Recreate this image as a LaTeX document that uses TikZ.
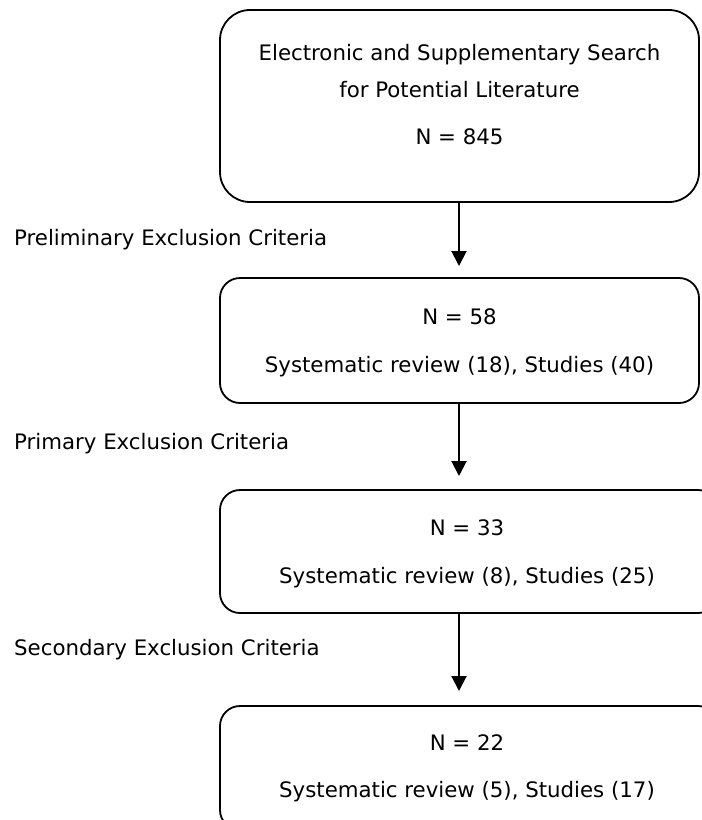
\documentclass[tikz,border=0pt]{standalone}
\usepackage{fontspec}
\setmainfont{DejaVu Sans}
\usetikzlibrary{arrows.meta}
\begin{document}
\begin{tikzpicture}[x=1pt,y=-1pt,
  box/.style={draw=black,line width=1.8pt,fill=white,inner sep=0pt},
  txt/.style={anchor=base,inner sep=0pt,font=\fontsize{21.3}{24}\selectfont},
  lbl/.style={anchor=base west,inner sep=0pt,font=\fontsize{21.3}{24}\selectfont},
  conn/.style={line width=2pt,-{Triangle[length=15pt,width=15pt]}}]
\useasboundingbox (0,0) rectangle (702,820);
\begin{scope}
\clip (0,0) rectangle (702,820);
\node[box,rounded corners=30pt,minimum width=479pt,minimum height=192pt] (b1) at (459.5,106) {};
\node[box,rounded corners=20pt,minimum width=479pt,minimum height=125pt] (b2) at (459.5,340.5) {};
\node[box,rounded corners=20pt,minimum width=498pt,minimum height=123pt] (b3) at (469,551.5) {};
\node[box,rounded corners=20pt,minimum width=498pt,minimum height=124pt] (b4) at (469,768) {};
\end{scope}
\node[txt] (t1a) at (459.5,60) {Electronic and Supplementary Search};
\node[txt] (t1b) at (459.5,97) {for Potential Literature};
\node[txt] (t1c) at (459.5,144) {N = 845};
\node[txt] (t2a) at (459.5,324) {N = 58};
\node[txt] (t2b) at (459.5,372) {Systematic review (18), Studies (40)};
\node[txt] (t3a) at (467,535) {N = 33};
\node[txt] (t3b) at (467,583) {Systematic review (8), Studies (25)};
\node[txt] (t4a) at (467,750) {N = 22};
\node[txt] (t4b) at (467,797) {Systematic review (5), Studies (17)};
\node[lbl] (l1) at (14,245) {Preliminary Exclusion Criteria};
\node[lbl] (l2) at (14,449) {Primary Exclusion Criteria};
\node[lbl] (l3) at (14,655) {Secondary Exclusion Criteria};
\coordinate (e1) at (459,266);
\coordinate (e2) at (459,476);
\coordinate (e3) at (459,691);
\draw[conn] (b1.south -| e1) -- (e1);
\draw[conn] (b2.south -| e2) -- (e2);
\draw[conn] (b3.south -| e3) -- (e3);
\end{tikzpicture}
\end{document}
